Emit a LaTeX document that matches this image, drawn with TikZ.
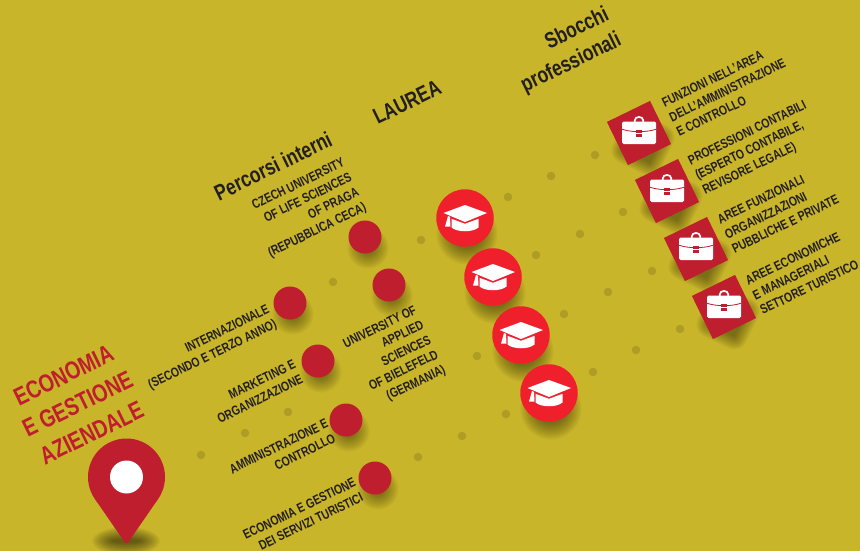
\documentclass[tikz,border=0pt]{standalone}
\usepackage{fontspec}
\setmainfont[FakeStretch=0.78]{Liberation Sans}
\definecolor{bgc}{HTML}{C9B52A}
\definecolor{dotc}{HTML}{AE9C25}
\definecolor{wine}{HTML}{BE1E2D}
\definecolor{capred}{HTML}{EF1F2B}
\definecolor{ink}{HTML}{231F20}
\tikzset{
  lab/.style={rotate=26,inner sep=0pt,text=ink,font=\fontsize{13.3}{16.5}\selectfont\bfseries},
  head/.style={rotate=26,inner sep=0pt,text=ink,font=\fontsize{22.3}{28}\selectfont\bfseries},
  dotm/.style={circle,fill=dotc,minimum size=8.5pt,inner sep=0pt},
  stop/.style={circle,fill=wine,minimum size=33pt,inner sep=0pt},
  capdisc/.style={circle,fill=capred,minimum size=57.5pt,inner sep=0pt},
  bag/.style={rectangle,fill=wine,minimum size=48pt,inner sep=0pt,rotate=26},
  cap/.pic={
    \fill[white] (-21.5,-5) -- (0,-13) -- (22,-5) -- (0,4) -- cycle;
    \fill[white] (-13.5,0.8) -- (0,5.8) -- (13.5,0.8) -- (13.5,9.5) .. controls (8,14.5) and (-8,14.5) .. (-13.5,9.5) -- cycle;
    \fill[white] (-17,-2) -- (-15,-1.2) -- (-14.5,8.5) -- (-20,8.5) -- cycle;
  },
  briefcase/.pic={
    \draw[white,line width=1.7pt] (-4.3,-11) -- (-4.3,-12.5) .. controls (-4.3,-17.2) and (4.3,-17.2) .. (4.3,-12.5) -- (4.3,-11);
    \fill[white,rounded corners=1.5pt] (-17,-11.5) rectangle (17,11);
    \draw[wine,line width=.8pt] (-17,-3.8) .. controls (-8,-.5) and (8,-.5) .. (17,-3.8);
    \fill[wine] (-3,-3) rectangle (3,4.3);
    \fill[white] (-3,-.5) rectangle (3,1.2);
  }
}
\newcommand{\softdisc}[3]{\foreach \k in {0,...,13}{\fill[black,opacity=.03] (#1,#2) circle[radius=#3+1.2*\k-8];}}
\newcommand{\softsq}[2]{\foreach \k in {0,...,13}{\fill[black,opacity=.032,rotate around={-26:(#1,#2)},rounded corners=\k pt] (#1-14-\k,#2-14-\k) rectangle (#1+14+\k,#2+14+\k);}}
\begin{document}
\begin{tikzpicture}[x=1pt,y=-1pt]
\fill[bgc] (0,0) rectangle (860,551);
\useasboundingbox (0,0) rectangle (860,551);
% dots
\foreach \n/\x/\y in {a/201/455,b/245/433,c/288/412,d/333/282,e/421/240,f/508/197,g/551/176,h/595/155,i/623/212,j/580/234,k/536/255,l/652/271,m/608/292,o/564/314,p/680/329,q/636/350,r/593/372,s/477/356,t/506/414,u/462/436,v/418/457}
  \node[dotm] (dot\n) at (\x,\y) {};
% shadows
\softdisc{368}{248}{13}\softdisc{392}{296}{13}\softdisc{293}{314}{13}\softdisc{321}{372}{13}\softdisc{349}{431}{13}\softdisc{378}{489}{13}
\softdisc{467}{234}{23}\softdisc{495}{293}{23}\softdisc{523}{351}{23}\softdisc{551}{409}{23}
\softsq{643}{144}\softsq{671}{202}\softsq{700}{260}\softsq{728}{318}
\foreach \k in {0,...,11}{\fill[black,opacity=.05] (126,541) ellipse[x radius=14+1.8*\k,y radius=2+1.1*\k];}
% pin
\fill[wine] (126.5,477) circle[radius=38.5];
\fill[wine] (94.8,498.8) -- (158.2,498.8) -- (130.5,539) .. controls (128,544.5) and (125,544.5) .. (122.5,539) -- cycle;
\node[circle,fill=white,minimum size=33pt,inner sep=0pt] (pinhole) at (126.5,477) {};
% stops
\foreach \n/\x/\y in {sa/365/237,sb/389/285,sc/290/303,sd/318/361,se/346/420,sf/375/478}
  \node[stop] (\n) at (\x,\y) {};
\foreach \n/\x/\y in {ca/465/218,cb/493/277,cc/521/335,cd/549/393}{
  \node[capdisc] (\n) at (\x,\y) {};
  \pic at (\n.center) {cap};
}
\foreach \n/\x/\y in {ba/639/133,bb/667/191,bc/696/249,bd/724/307}{
  \node[bag] (\n) at (\x,\y) {};
  \pic at (\n.center) {briefcase};
}
% text
\node[rotate=26,inner sep=0pt,text=wine,align=center,font=\fontsize{25}{32}\selectfont\bfseries] (title) at (77.5,404) {ECONOMIA\\E GESTIONE\\AZIENDALE};
\node[head] (percorsi) at (273,166) {Percorsi interni};
\node[head] (laurea) at (407,102) {LAUREA};
\node[head,align=right,anchor=east] (sbocchi) at (614,27) {Sbocchi\\professionali};
\node[lab,align=right,anchor=east] (czech) at (355,185) {CZECH UNIVERSITY\\OF LIFE SCIENCES\\OF PRAGA\\(REPUBBLICA CECA)};
\node[lab,align=right,anchor=east] (inter) at (272.5,317) {INTERNAZIONALE\\(SECONDO E TERZO ANNO)};
\node[lab,align=right,anchor=east] (mark) at (298.5,371) {MARKETING E\\ORGANIZZAZIONE};
\node[lab,align=right,anchor=east] (amm) at (331,430) {AMMINISTRAZIONE E\\CONTROLLO};
\node[lab,align=right,anchor=east] (eco) at (358.5,489) {ECONOMIA E GESTIONE\\DEI SERVIZI TURISTICI};
\node[lab,align=right,anchor=east] (uni) at (430.5,340) {UNIVERSITY OF\\APPLIED\\SCIENCES\\OF BIELEFELD\\(GERMANIA)};
\node[lab,align=left,anchor=west] (fa) at (670,118) {FUNZIONI NELL'AREA\\DELL'AMMINISTRAZIONE\\E CONTROLLO};
\node[lab,align=left,anchor=west] (fb) at (696.5,177) {PROFESSIONI CONTABILI\\(ESPERTO CONTABILE,\\REVISORE LEGALE)};
\node[lab,align=left,anchor=west] (fc) at (725.5,235) {AREE FUNZIONALI\\ORGANIZZAZIONI\\PUBBLICHE E PRIVATE};
\node[lab,align=left,anchor=west] (fd) at (753.5,296) {AREE ECONOMICHE\\E MANAGERIALI\\SETTORE TURISTICO};
\end{tikzpicture}
\end{document}
